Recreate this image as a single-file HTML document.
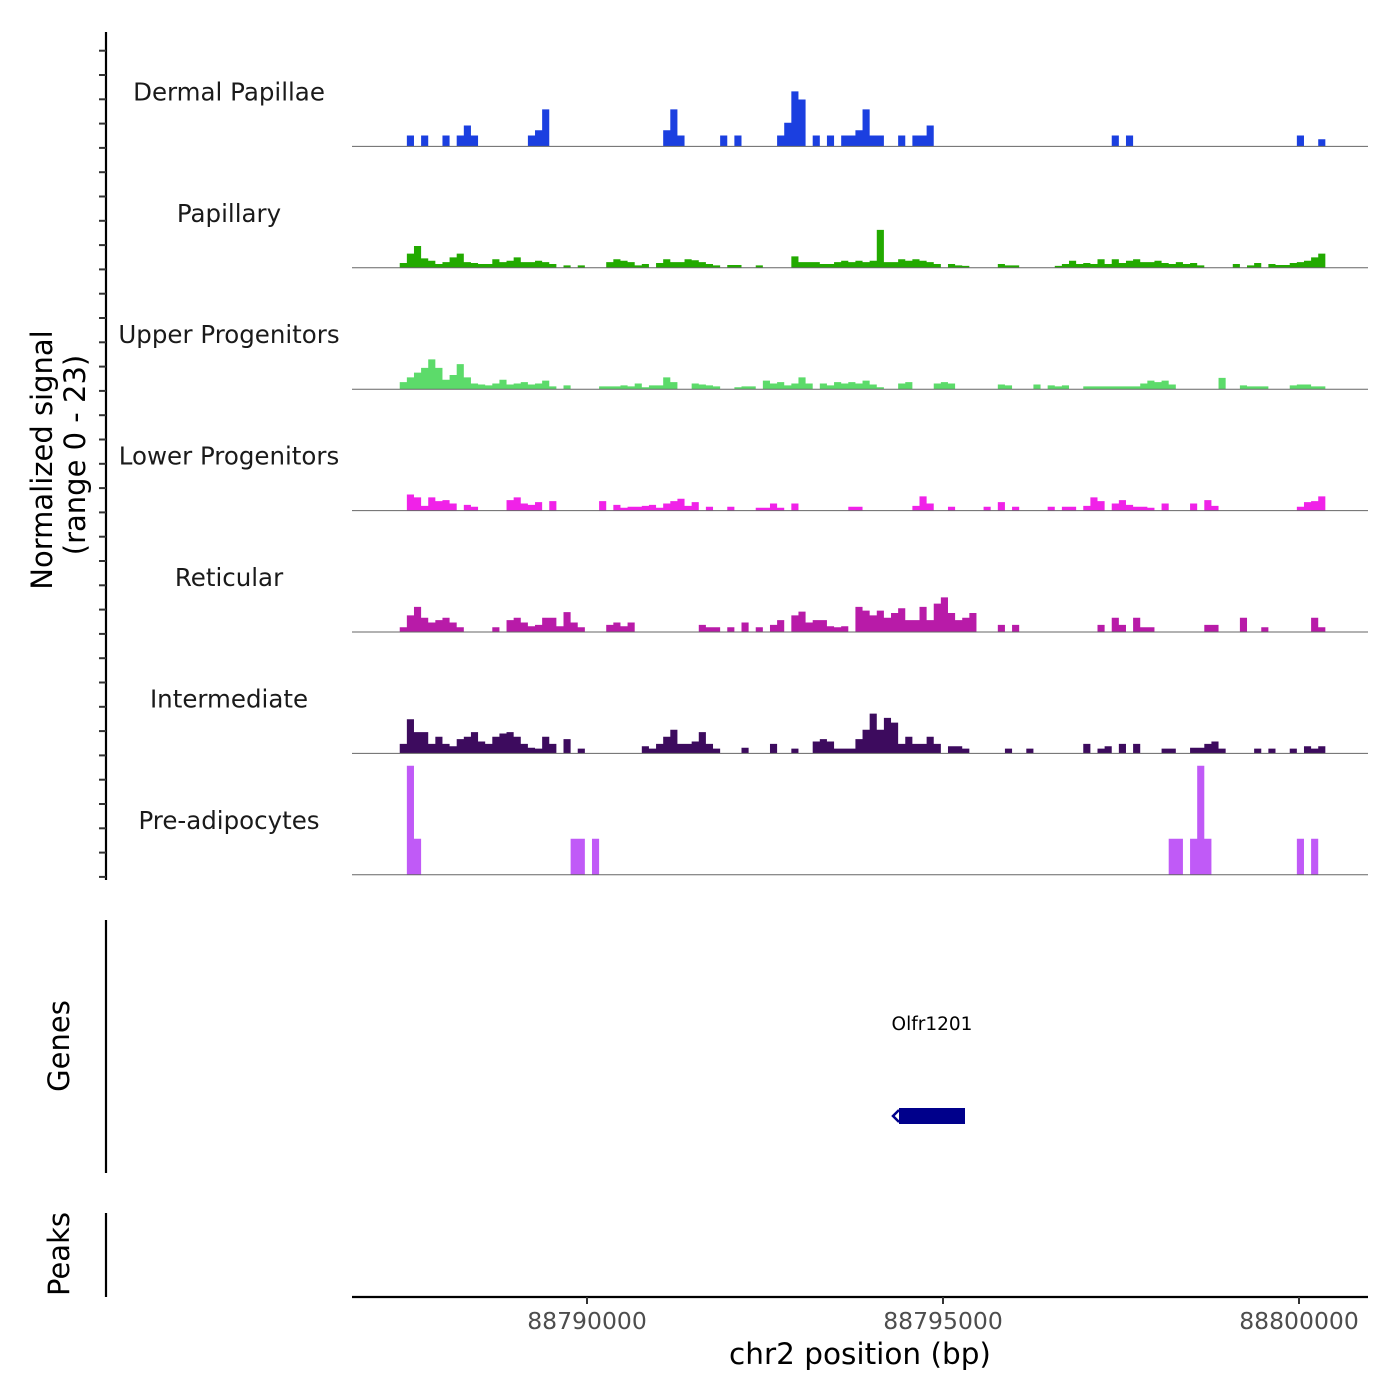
<!DOCTYPE html>
<html><head><meta charset="utf-8"><style>
html,body{margin:0;padding:0;background:#fff;}
svg{display:block;font-family:"DejaVu Sans","Liberation Sans",sans-serif;}
</style></head><body>
<svg id="chart" width="1400" height="1400" viewBox="0 0 1400 1400">
<g id="tracks"></g>
<g id="yaxis">
  <line x1="106" y1="32" x2="106" y2="880" stroke="#000" stroke-width="2.2"/>
</g>
<text transform="translate(52,460) rotate(-90)" text-anchor="middle" font-size="29" fill="#000">Normalized signal</text>
<text transform="translate(85,455) rotate(-90)" text-anchor="middle" font-size="29" fill="#000">(range 0 - 23)</text>
<line x1="106" y1="920" x2="106" y2="1173" stroke="#000" stroke-width="2.2"/>
<text transform="translate(69,1046) rotate(-90)" text-anchor="middle" font-size="29" fill="#000">Genes</text>
<text x="932" y="1030" text-anchor="middle" font-size="18.5" fill="#000">Olfr1201</text>
<rect x="899" y="1108" width="66" height="16" fill="#00008B"/>
<line x1="899" y1="1116" x2="965" y2="1116" stroke="#00008B" stroke-width="2"/>
<path d="M899,1110 L893,1116 L899,1122" stroke="#00008B" stroke-width="2.5" fill="none"/>
<line x1="106" y1="1213" x2="106" y2="1297" stroke="#000" stroke-width="2.2"/>
<text transform="translate(69,1254) rotate(-90)" text-anchor="middle" font-size="29" fill="#000">Peaks</text>
<g id="xaxis">
  <line x1="352" y1="1297" x2="1368" y2="1297" stroke="#000" stroke-width="2.2"/>
</g>
<text x="860" y="1364" text-anchor="middle" font-size="29.5" fill="#000">chr2 position (bp)</text>
</svg>
<script>
const binStart = 88787370;
const binSize = 100;
const trackNames = ["Dermal Papillae","Papillary","Upper Progenitors","Lower Progenitors","Reticular","Intermediate","Pre-adipocytes"];
const trackColors = ["#1B3FE0","#22AA00","#5CDB6A","#F022E8","#B81BA8","#3D0B5E","#C05AF7"];
const xTicks = [88790000,88795000,88800000];
const xTickLabels = ["88790000","88795000","88800000"];
const yMax = 23;
const dermalPapillae = [
0,2.3,0,2.3,0,0,2.3,0,2.3,4.4,
2.3,0,0,0,0,0,0,0,2.3,3.4,
7.8,0,0,0,0,0,0,0,0,0,
0,0,0,0,0,0,0,3.4,7.8,2.3,
0,0,0,0,0,2.3,0,2.3,0,0,
0,0,0,2.3,5,11.6,9.9,0,2.3,0,
2.3,0,2.3,2.3,3.4,7.8,2.3,2.3,0,0,
2.3,0,2.3,2.3,4.4,0,0,0,0,0,
0,0,0,0,0,0,0,0,0,0,
0,0,0,0,0,0,0,0,0,0,
2.3,0,2.3,0,0,0,0,0,0,0,
0,0,0,0,0,0,0,0,0,0,
0,0,0,0,0,0,2.3,0,0,1.5];
const papillary = [
1,3,4.6,2,1.5,0.8,1.2,2.2,3,1.2,
1,0.8,0.8,1.8,1.2,1.5,2.2,1.2,1.2,1.5,
1.2,0.8,0,0.5,0,0.5,0,0,0,1.2,
1.8,1.5,1.2,0.5,0.8,0,1,1.8,1.2,1.2,
1.8,1.6,1.2,0.8,0.5,0,0.6,0.6,0,0,
0.5,0,0,0,0,2.4,1.2,1.2,1.2,0.8,
0.8,1.2,1.5,1.2,1.5,1.2,1.5,8,1.2,1.2,
1.8,1.5,1.8,1.5,1.2,0.8,0,0.8,0.5,0.4,
0,0,0,0,0.8,0.5,0.5,0,0,0,
0,0,0.4,0.8,1.5,0.8,1,0.8,1.8,0.8,
1.8,1,1.5,1.8,1.2,1.2,1.5,1,0.8,1.2,
0.8,1,0.5,0,0,0,0,0.8,0,0.5,
1,0,0.8,0.6,0.6,1,1.2,1.5,2.2,3];
const upperProgenitors = [
1.5,2.5,3.5,4.5,6.3,4.5,2,3,5.3,2.5,
1.2,1,0.8,1.2,2,1,1.2,1.5,1,1.2,
1.8,0.6,0,0.8,0,0,0,0,0.6,0.6,
0.6,0.8,0.6,1.2,0.4,0.8,0.8,2.5,1.5,0,
0,1.2,1,0.8,0.6,0,0,0.4,0.6,0.6,
0,1.8,1.2,1.5,0.8,1.2,2.5,1.2,0,1.2,
0.8,1.5,1.2,1.5,1.2,1.8,1,0.4,0,0,
1.2,1.5,0,0,0,1.2,1.5,1.2,0,0,
0,0,0,0,1,0.8,0,0,0,1,
0,0.8,0.6,0.8,0,0,0.6,0.6,0.6,0.6,
0.6,0.6,0.6,0.6,1.2,1.8,1.5,1.8,1,0,
0,0,0,0,0,2.4,0,0,0.8,0.6,
0.6,0.6,0,0,0,0.8,1,1,0.6,0.6];
const lowerProgenitors = [
0,3.4,2.8,1,2.8,2,2.2,1.5,0,1.2,
0.8,0,0,0,0,2.2,2.8,1.5,1.2,1.8,
0,2,0,0,0,0,0,0,2,0,
1.2,0.6,0.8,0.8,1,1.2,0.6,1.5,2,2.5,
1,1.8,0,0.8,0,0,0.8,0,0,0,
0.6,0.6,1.5,0.6,0,1.5,0,0,0,0,
0,0,0,0.8,0.8,0,0,0,0,0,
0,0,1,3,1.5,0,0,0.8,0,0,
0,0,0.8,0,1.8,0,0.8,0,0,0,
0,0.8,0,0.8,0.8,0,1,2.8,2,0,
1.5,2.2,1.2,0.8,0.8,0.6,0,1.5,0,0,
0,1.5,0,2.2,1,0,0,0,0,0,
0,0,0,0,0,0,0.8,1.8,2,3];
const reticular = [
1,3.5,5.3,3,2,2.5,3,2,1,0,
0,0,0,1,0,2.5,3,2,1.2,1.5,
3,3,1.2,4.2,2,1,0,0,0,1.5,
2,1.2,2,0,0,0,0,0,0,0,
0,0,1.5,1,1,0,1,0,2,0,
1,0,1.5,2.5,0,3.5,4.3,2,2.5,2.5,
1.2,1,1.2,0,5.3,4.5,3.5,4.5,3,4,
5,2.5,2.5,5.3,2.5,6,7.3,4,2.5,3,
4,0,0,0,1.5,0,1.5,0,0,0,
0,0,0,0,0,0,0,0,1.5,0,
3,1.5,0,3,1,1,0,0,0,0,
0,0,0,1.5,1.5,0,0,0,3,0,
0,1,0,0,0,0,0,0,3,1];
const intermediate = [
2,7.2,4.5,4.5,2,3.5,2,1.5,3,3.5,
4.5,2.5,2,3.5,4.2,4.5,3.5,2,1.2,1,
3.5,2,0,3,0,1,0,0,0,0,
0,0,0,0,1.5,1,2,3.5,5,2,
2,2.5,4.5,2,1,0,0,0,1.2,0,
0,0,2,0,0,1,0,0,2.5,3,
2.5,1,1,1,3,5,8.4,5,7.5,6.5,
2,3.5,2,2,3.5,2,0,1.5,1.5,1,
0,0,0,0,0,1,0,0,1,0,
0,0,0,0,0,0,2,0,1,1.5,
0,2,0,2,0,0,0,1,1,0,
0,1.2,1.2,2,2.5,1,0,0,0,0,
1,0,1,0,0,1,0,1.5,1,1.5];
const preAdipocytes = [
0,23,7.6,0,0,0,0,0,0,0,
0,0,0,0,0,0,0,0,0,0,
0,0,0,0,7.6,7.6,0,7.6,0,0,
0,0,0,0,0,0,0,0,0,0,
0,0,0,0,0,0,0,0,0,0,
0,0,0,0,0,0,0,0,0,0,
0,0,0,0,0,0,0,0,0,0,
0,0,0,0,0,0,0,0,0,0,
0,0,0,0,0,0,0,0,0,0,
0,0,0,0,0,0,0,0,0,0,
0,0,0,0,0,0,0,0,7.6,7.6,
0,7.6,23,7.6,0,0,0,0,0,0,
0,0,0,0,0,0,7.6,0,7.6,0];
const trackSeries = [dermalPapillae,papillary,upperProgenitors,lowerProgenitors,reticular,intermediate,preAdipocytes];

const NS = "http://www.w3.org/2000/svg";
const tracksG = document.getElementById("tracks");
const xScale = bp => 587 + (bp - 88790000) * 356 / 5000;
const trackTop = 25, trackH = 121.4, plotLeft = 352, plotRight = 1368;
const baseY = i => trackTop + (i + 1) * trackH;
const yScale = (v, i) => baseY(i) - v / yMax * 109;

trackSeries.forEach((vals, t) => {
  const base = baseY(t);
  let d = "M" + xScale(binStart).toFixed(2) + "," + base;
  vals.forEach((v, i) => {
    const x0 = xScale(binStart + i * binSize), x1 = xScale(binStart + (i + 1) * binSize);
    const y = yScale(v, t);
    d += " L" + x0.toFixed(2) + "," + y.toFixed(2) + " L" + x1.toFixed(2) + "," + y.toFixed(2);
  });
  d += " L" + xScale(binStart + vals.length * binSize).toFixed(2) + "," + base + " Z";
  const p = document.createElementNS(NS, "path");
  p.setAttribute("d", d);
  p.setAttribute("fill", trackColors[t]);
  
  
  tracksG.appendChild(p);
  const bl = document.createElementNS(NS, "line");
  bl.setAttribute("x1", plotLeft); bl.setAttribute("x2", plotRight);
  bl.setAttribute("y1", base); bl.setAttribute("y2", base);
  bl.setAttribute("stroke", "#666"); bl.setAttribute("stroke-width", "1");
  
  
  tracksG.appendChild(bl);
  const lab = document.createElementNS(NS, "text");
  lab.setAttribute("x", 229);
  lab.setAttribute("y", base - 46);
  lab.setAttribute("text-anchor", "middle");
  lab.setAttribute("font-size", "24.5");
  lab.setAttribute("fill", "#1a1a1a");
  lab.textContent = trackNames[t];
  
  
  tracksG.appendChild(lab);
});

const yaxis = document.getElementById("yaxis");
for (let k = 0; k < 35; k++) {
  const y = 50.7 + k * 24.3;
  const tk = document.createElementNS(NS, "line");
  tk.setAttribute("x1", 99); tk.setAttribute("x2", 106);
  tk.setAttribute("y1", y); tk.setAttribute("y2", y);
  tk.setAttribute("stroke", "#333"); tk.setAttribute("stroke-width", "2");
  
  
  yaxis.appendChild(tk);
}

const xaxis = document.getElementById("xaxis");
xTicks.forEach((bp, i) => {
  const x = xScale(bp);
  const tk = document.createElementNS(NS, "line");
  tk.setAttribute("x1", x); tk.setAttribute("x2", x);
  tk.setAttribute("y1", 1297); tk.setAttribute("y2", 1304);
  tk.setAttribute("stroke", "#333"); tk.setAttribute("stroke-width", "2");
  
  
  xaxis.appendChild(tk);
  const tl = document.createElementNS(NS, "text");
  tl.setAttribute("x", x); tl.setAttribute("y", 1329);
  tl.setAttribute("text-anchor", "middle");
  tl.setAttribute("font-size", "23.5");
  tl.setAttribute("fill", "#4d4d4d");
  tl.textContent = xTickLabels[i];
  
  
  xaxis.appendChild(tl);
});
</script>
</body></html>
